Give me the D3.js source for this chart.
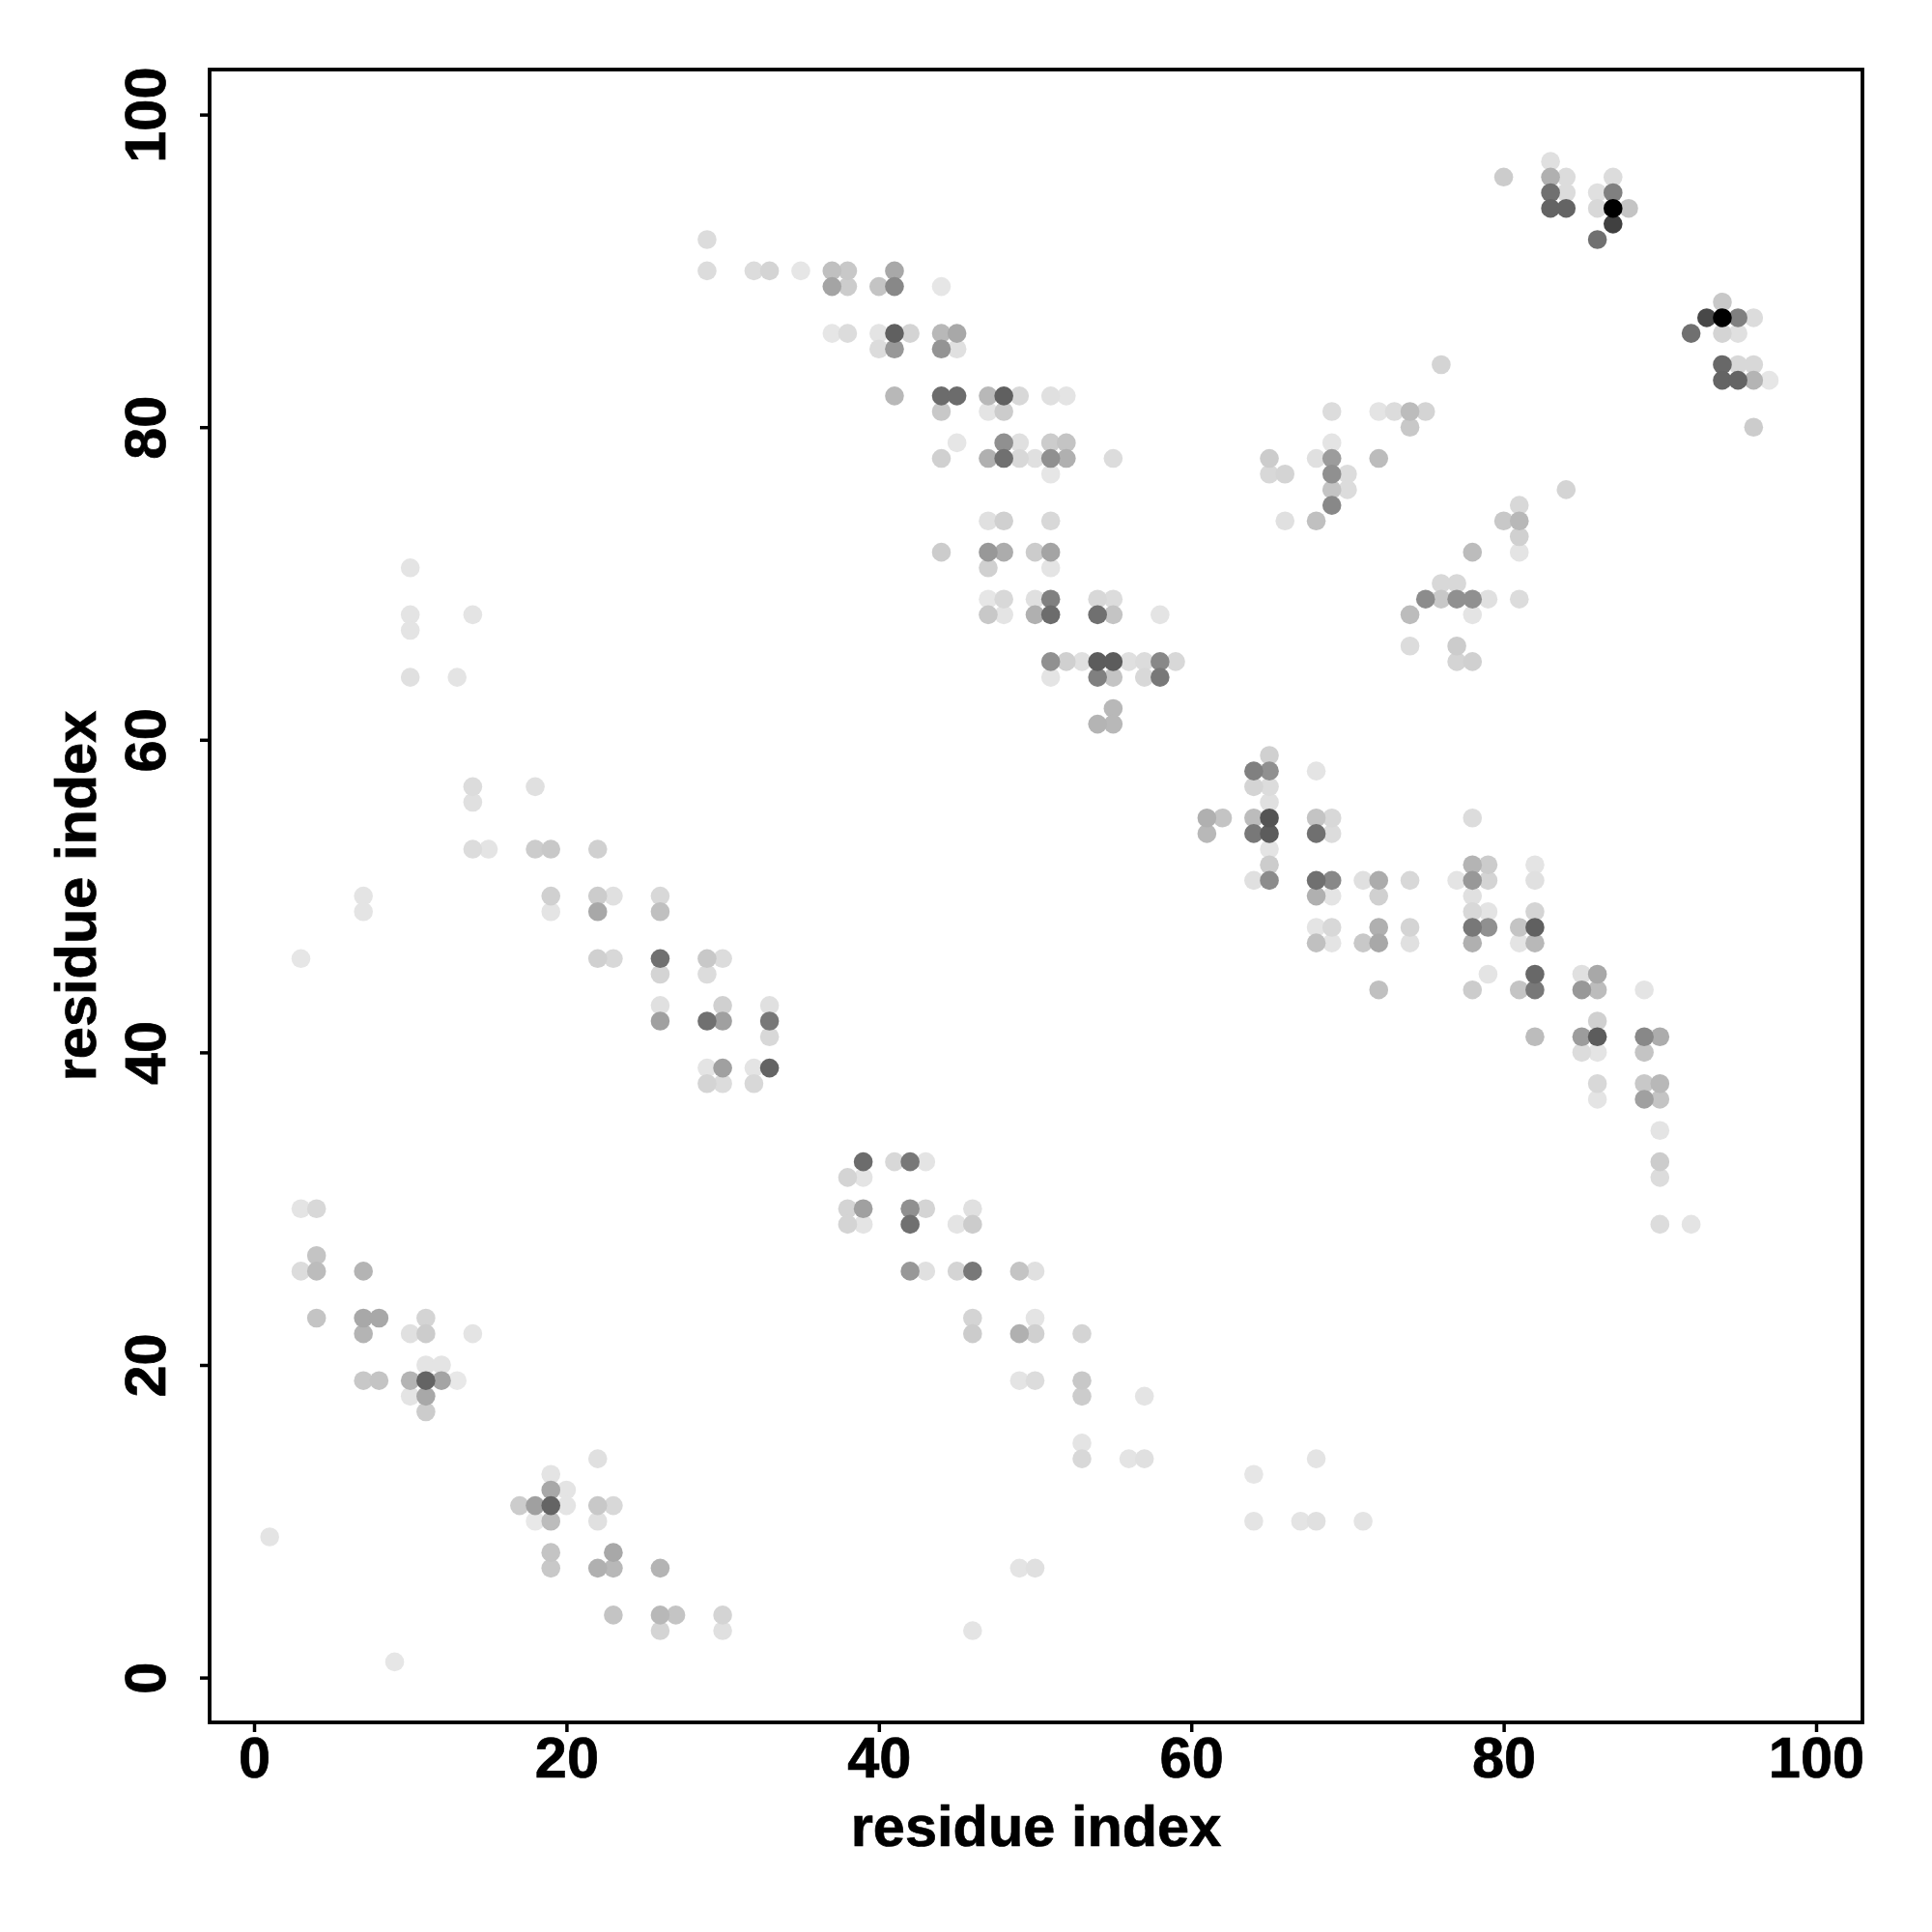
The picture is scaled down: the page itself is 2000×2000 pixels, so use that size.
<!DOCTYPE html>
<html><head><meta charset="utf-8">
<script src="https://cdn.jsdelivr.net/npm/d3@7/dist/d3.min.js"></script>
<style>html,body{margin:0;padding:0;background:#fff}svg{display:block}</style>
</head><body><svg id="c" width="2000" height="2000"></svg>
<script>
const tickValues = [0,20,40,60,80,100];
const axisTitle = "residue index";
// one entry per row of contacts: y residue, x residues in that row, grey level of each
const rowY = [97,96,95,94,93,92,90,89,88,87,86,85,84,83,82,81,80,79,78,77,76,75,74,73,72,71,70,69,68,67,66,65,64,62,61,59,58,57,56,55,54,53,52,51,50,49,48,47,46,45,44,43,42,41,40,39,38,37,35,33,32,30,29,27,26,23,22,20,19,18,17,15,14,13,12,11,10,9,8,7,4,3,1];
const rowX = [
[83],[80,83,84,87],[83,84,86,87],[83,84,86,87,88],[87],[29,86],
[29,32,33,35,37,38,41],[37,38,40,41,44],[94],[93,94,95,96],
[37,38,40,41,42,44,45,92,94,95],[40,41,44,45],[76,94,95,96],[94,95,96,97],
[41,44,45,47,48,49,51,52],[44,47,48,69,72,73,74,75],[74,96],[45,48,49,51,52,69],
[44,47,48,49,50,51,52,55,65,68,69,72],[51,65,66,69,70],[69,70,84],[69,81],
[47,48,51,66,68,80,81],[81],[44,47,48,50,51,78,81],[10,47,51],[76,77],
[47,48,50,51,54,55,75,76,77,78,79,81],[10,14,47,48,50,51,54,55,58,74,78],[10],[74,77],
[51,52,53,54,55,56,57,58,59,77,78],[10,13,51,54,55,57,58],[55],[54,55],
[65],[64,65,68],[14,18,64,65],[14,65],[61,62,64,65,68,69,78],[61,64,65,68,69],
[14,15,18,19,22,65],[65,78,79,82],[64,65,68,69,71,72,74,77,78,79,82],
[7,19,22,23,26,68,69,72,78],[7,19,22,26,78,79,82],[68,69,72,74,78,79,81,82],
[68,69,71,72,74,78,81,82],[3,22,23,26,29,30],[26,29,79,82,85,86],[72,78,81,82,85,86,89],
[26,30,33],[26,29,30,33,86],[33,82,85,86,89,90],[85,86,89],[29,30,32,33],
[29,30,32,86,89,90],[86,89,90],[90],[39,41,42,43,90],[38,39,90],
[3,4,38,39,42,43,46],[38,39,42,45,46,90,92],[4],[3,4,7,42,43,45,46,49,50],
[4,7,8,11,46,50],[7,10,11,14,46,49,50,53],[11,12],[7,8,10,11,12,13,49,50,53],
[10,11,53,57],[11],[53],[22,53,56,57,68],[19,64],[19,20],[17,18,19,20,22,23],
[18,19,22,64,67,68,71],[1],[19,23],[19,22,23,26,49,50],[23,26,27,30],[26,30,46],[9]
];
const rowGrey = [
["e0"],["cc","b0","dc","dc"],["70","dc","e0","80"],["64","64","d8","00","c4"],["40"],["dc","70"],
["dc","dc","d4","e6","c0","c8","a8"],["a4","cc","c4","88","e6"],["c8"],["48","00","80","dc"],
["e6","dc","e4","60","d4","b8","a8","70","d4","e0"],["dc","98","94","e0"],["d4","68","d8","d8"],["64","64","b4","e6"],
["b8","6c","6c","b8","60","d8","e0","e4"],["c8","e4","cc","dc","e4","dc","bc","d4"],["c8","cc"],["e6","90","e0","cc","c4","e4"],
["d0","b0","70","d8","e0","90","b0","dc","cc","e0","9c","bc"],["e6","d8","d4","90","dc"],["c4","dc","d4"],["88","d8"],
["e0","d0","d8","e0","c0","c8","b8"],["d0"],["cc","98","ac","cc","a4","bc","e4"],["e4","d0","e4"],["d8","d8"],
["e6","d8","e0","80","d8","dc","8c","c8","90","90","e0","dc"],["e4","e4","c8","e4","b0","6c","70","c4","e4","bc","e4"],["e4"],["dc","cc"],
["90","d0","e0","5c","5c","e0","dc","88","d8","d4","d0"],["e0","e4","e4","80","c4","d8","78"],["b8"],["b4","b8"],
["d0"],["80","90","e4"],["dc","e0","d4","dc"],["e0","e0"],["b0","c4","bc","54","c4","d8","dc"],["b8","78","5c","70","dc"],
["dc","e4","cc","c8","d0","e4"],["cc","b4","cc","e4"],["e0","8c","70","88","e0","ac","d8","e4","98","d4","e0"],
["e4","d0","cc","e0","d8","b0","e4","d0","e0"],["e4","e4","a8","c0","d8","e4","d4"],["e4","d8","b0","d4","78","90","c4","60"],
["c0","e4","c8","a8","e0","b0","e4","b8"],["e6","d0","d8","70","c8","dc"],["d4","dc","e4","68","e0","a8"],["c0","cc","c4","78","98","bc","e4"],
["e0","d0","e0"],["a0","70","a0","78","d0"],["d8","bc","9c","5c","88","ac"],["dc","e4","c4"],["e4","a0","e4","64"],
["d4","dc","d8","d8","c8","b8"],["e4","a0","c4"],["e4"],["6c","d8","78","e4","cc"],["d4","e4","dc"],
["e4","d8","d4","a0","90","d4","e0"],["d4","e4","70","e4","cc","dc","e4"],["c4"],["dc","bc","b4","98","e0","d4","78","c4","e0"],
["c4","a8","a8","d4","d4","e4"],["b4","e0","cc","e4","cc","b0","d0","d4"],["e4","e4"],["c8","c4","b4","64","a4","e8","e4","dc","c8"],
["e4","a8","cc","e4"],["cc"],["e4"],["e0","d8","e4","e0","e4"],["e4","e6"],["a8","e4"],["cc","a0","64","e4","c8","d8"],
["e8","bc","e0","e4","e4","e0","e4"],["e4"],["c4","a8"],["c8","b0","b8","b4","e4","e0"],["c4","b8","c4","d4"],["d4","e0","e4"],["e6"]
];

const contacts = rowY.flatMap((y,i)=>rowX[i].map((x,j)=>({x,y,g:rowGrey[i][j]})));
const xs = d3.scaleLinear().domain([0,100]).range([263,1880]);
const ys = d3.scaleLinear().domain([0,100]).range([1736.6,118.6]);
const box = {l:217,r:1928,t:72,b:1783};
const font = "'Liberation Sans',Arial,Helvetica,sans-serif";
const svg = d3.select("#c");

svg.append("g").selectAll("circle")
  .data(contacts.slice().sort((a,b)=>d3.descending(a.g,b.g)))
  .join("circle")
  .attr("cx",d=>xs(d.x)).attr("cy",d=>ys(d.y)).attr("r",9.8)
  .attr("fill",d=>"#"+d.g+d.g+d.g);

svg.append("rect").attr("x",box.l).attr("y",box.t)
  .attr("width",box.r-box.l).attr("height",box.b-box.t)
  .attr("fill","none").attr("stroke","#000").attr("stroke-width",3.8);

const ax = svg.append("g").attr("transform",`translate(0,${box.b})`)
  .call(d3.axisBottom(xs).tickValues(tickValues).tickSize(10).tickPadding(0));
const ay = svg.append("g").attr("transform",`translate(${box.l},0)`)
  .call(d3.axisLeft(ys).tickValues(tickValues).tickSize(10).tickPadding(0));
[ax,ay].forEach(a=>{
  a.select(".domain").remove();
  a.selectAll("line").attr("stroke","#000").attr("stroke-width",3.5);
  a.selectAll("text").attr("font-family",font).attr("font-weight","bold").attr("font-size",59.5)
    .attr("fill","#000").attr("stroke","#000").attr("stroke-width",0.7);
});
ax.selectAll("text").attr("dy",null).attr("y",57).attr("text-anchor","middle");
ay.selectAll("text").attr("dy",null).attr("x",null)
  .attr("transform","translate(-46,0) rotate(-90)")
  .attr("text-anchor","middle").attr("y",0);

svg.append("text").text(axisTitle).attr("x",(box.l+box.r)/2).attr("y",1911)
  .attr("text-anchor","middle").attr("font-family",font).attr("font-weight","bold").attr("font-size",59.5)
  .attr("stroke","#000").attr("stroke-width",0.7);
svg.append("text").text(axisTitle).attr("transform",`translate(99,${(box.t+box.b)/2}) rotate(-90)`)
  .attr("text-anchor","middle").attr("font-family",font).attr("font-weight","bold").attr("font-size",59.5)
  .attr("stroke","#000").attr("stroke-width",0.7);
</script></body></html>
